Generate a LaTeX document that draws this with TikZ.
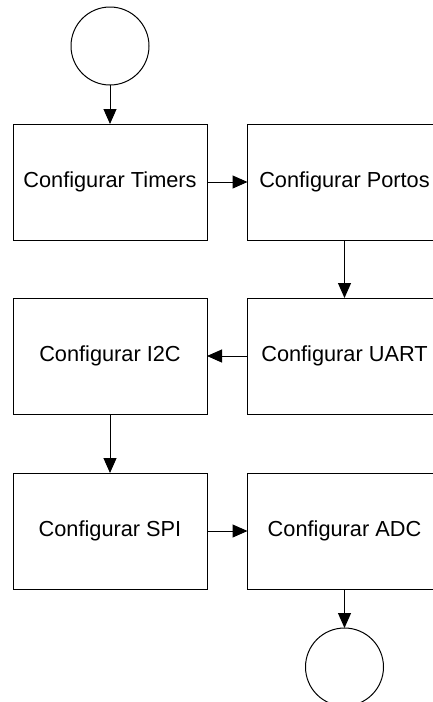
\documentclass[tikz,border=0pt]{standalone}
\usepackage{fontspec}
\setmainfont{Liberation Sans}
\usetikzlibrary{arrows.meta}

\tikzset{
  passo/.style={draw, line width=1pt, rectangle, minimum width=194pt, minimum height=116pt,
    inner sep=0pt, outer sep=0pt, font=\fontsize{21.75}{26}\selectfont},
  terminal/.style={draw, line width=1pt, circle, minimum size=78pt, inner sep=0pt, outer sep=0pt},
  fluxo/.style={line width=1pt, -{Triangle[length=15pt,width=13pt]}}
}

\begin{document}
\begin{tikzpicture}[x=1pt,y=-1pt]
\clip (0,0) rectangle (433,702);

\node[terminal] (inicio) at (110,46) {};

\node[passo] (timers) at (110,182) {Configurar Timers};
\node[passo] (portos) at (344.5,182) {Configurar Portos};

\node[passo] (i2c) at (110,356) {Configurar I2C};
\node[passo] (uart) at (344.5,356) {Configurar UART};

\node[passo] (spi) at (110,531) {Configurar SPI};
\node[passo] (adc) at (344.5,531) {Configurar ADC};

\node[terminal] (fim) at (344.5,667) {};

\draw[fluxo] (inicio) -- (timers);
\draw[fluxo] (timers) -- (portos);
\draw[fluxo] (portos) -- (uart);
\draw[fluxo] (uart) -- (i2c);
\draw[fluxo] (i2c) -- (spi);
\draw[fluxo] (spi) -- (adc);
\draw[fluxo] (adc) -- (fim);

\end{tikzpicture}
\end{document}
